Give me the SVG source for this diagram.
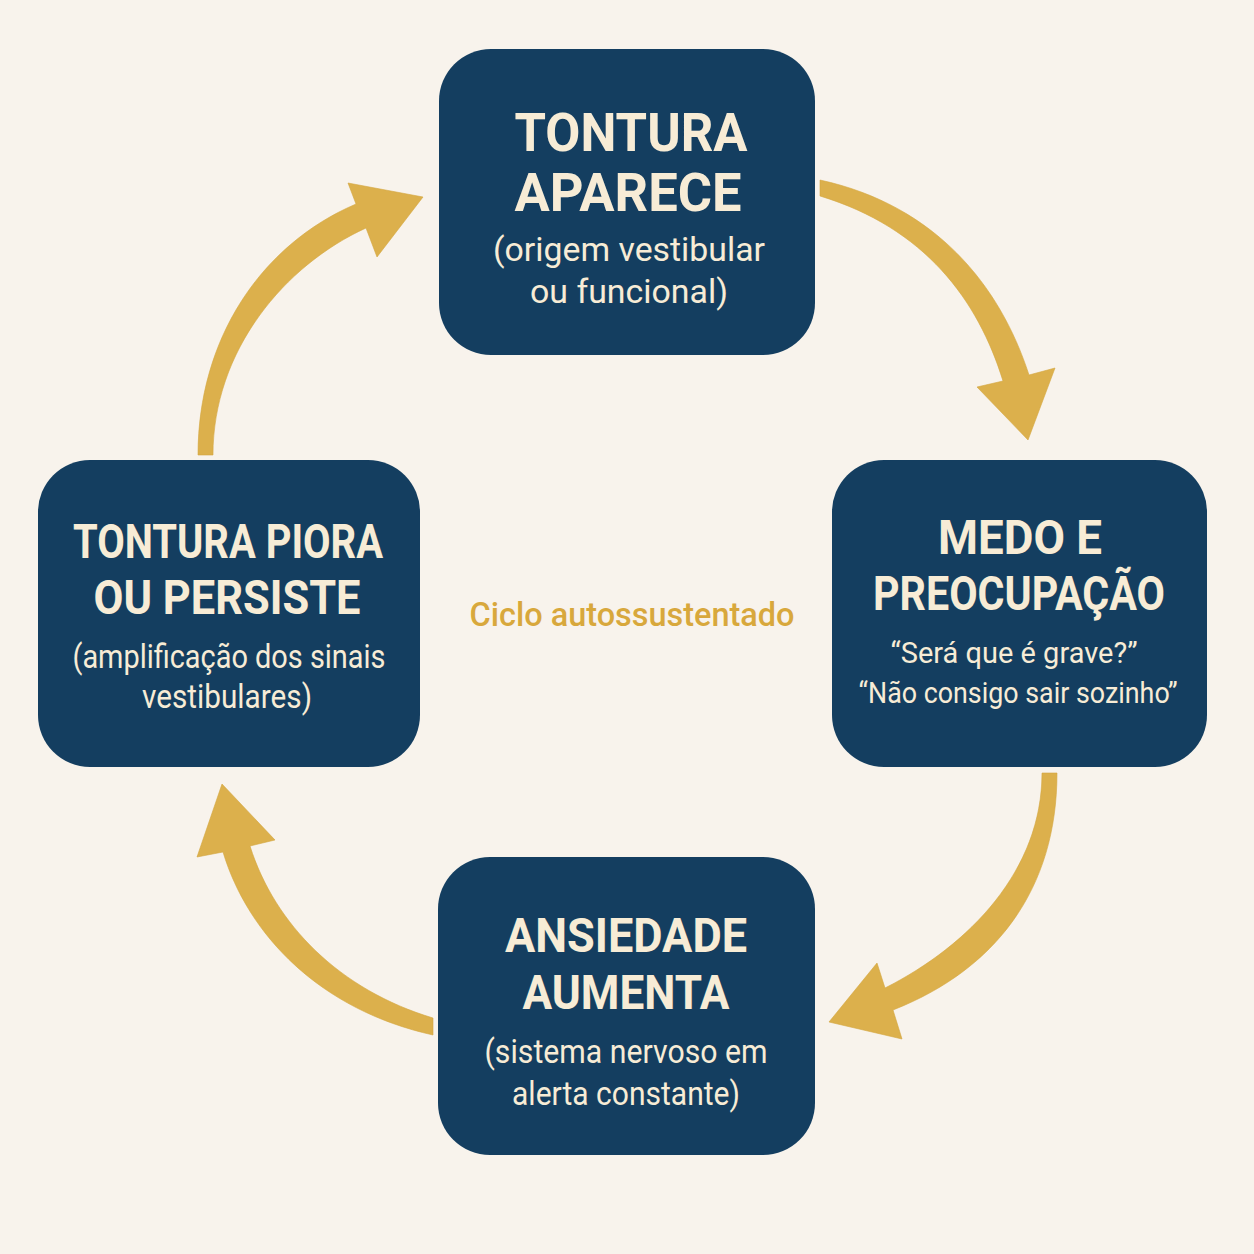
<svg xmlns="http://www.w3.org/2000/svg" width="1254" height="1254" viewBox="0 0 1254 1254">
<style>
.box{fill:#143e60}
.t{font-family:Roboto,"Liberation Sans",sans-serif;font-weight:700;fill:#f7ecd6;text-anchor:middle}
.s{font-family:Roboto,"Liberation Sans",sans-serif;font-weight:400;fill:#f7ecd6;text-anchor:middle;font-size:33px}
.arrow{fill:#dcb04c;stroke:#d4a640;stroke-width:0.6}
.c{font-family:Roboto,"Liberation Sans",sans-serif;font-weight:500;fill:#d8a83c;text-anchor:middle;font-size:34px}
</style>
<rect width="1254" height="1254" fill="#f8f3ec"/>
<g id="connectors">
<path class="arrow" d="M820,180 C935,205 1000,285 1029,375 L1055,368 L1028,440 L977,387 L1003,381 C978,300 925,228 820,196 Z"/>
<path class="arrow" d="M1057,773 C1057,890 995,970 893,1010 L902,1039 L829,1022 L877,963 L885,988 C970,945 1042,870 1042,773 Z"/>
<path class="arrow" d="M433,1035 C320,1010 248,935 223,852 L197,857 L222,784 L275,840 L250,846 C275,925 340,990 433,1018 Z"/>
<path class="arrow" d="M198,455 C198,340 260,245 356,204 L348,183 L423,197 L377,257 L366,228 C285,265 213,350 213,455 Z"/>
</g>
<g id="node-top">
<rect class="box" x="439" y="49" width="376" height="306" rx="52"/>
<text class="t" x="631" y="151" font-size="54" textLength="233" lengthAdjust="spacingAndGlyphs">TONTURA</text>
<text class="t" x="628" y="211" font-size="54" textLength="227" lengthAdjust="spacingAndGlyphs">APARECE</text>
<text class="s" x="629" y="261" textLength="272" lengthAdjust="spacingAndGlyphs">(origem vestibular</text>
<text class="s" x="629" y="303" textLength="198" lengthAdjust="spacingAndGlyphs">ou funcional)</text>
</g>
<g id="node-right">
<rect class="box" x="832" y="460" width="375" height="307" rx="52"/>
<text class="t" x="1020" y="554" font-size="48" textLength="164" lengthAdjust="spacingAndGlyphs">MEDO E</text>
<text class="t" x="1019" y="610" font-size="48" textLength="292" lengthAdjust="spacingAndGlyphs">PREOCUPAÇÃO</text>
<text class="s" x="1014" y="663" style="font-size:30px" textLength="247" lengthAdjust="spacingAndGlyphs">“Será que é grave?”</text>
<text class="s" x="1018" y="703" style="font-size:30px" textLength="319" lengthAdjust="spacingAndGlyphs">“Não consigo sair sozinho”</text>
</g>
<g id="node-left">
<rect class="box" x="38" y="460" width="382" height="307" rx="52"/>
<text class="t" x="228" y="558" font-size="48" textLength="310" lengthAdjust="spacingAndGlyphs">TONTURA PIORA</text>
<text class="t" x="227" y="614" font-size="48" textLength="267" lengthAdjust="spacingAndGlyphs">OU PERSISTE</text>
<text class="s" x="229" y="668" textLength="313" lengthAdjust="spacingAndGlyphs">(amplificação dos sinais</text>
<text class="s" x="227" y="708" textLength="170" lengthAdjust="spacingAndGlyphs">vestibulares)</text>
</g>
<g id="node-bottom">
<rect class="box" x="438" y="857" width="377" height="298" rx="52"/>
<text class="t" x="626" y="952" font-size="48" textLength="242" lengthAdjust="spacingAndGlyphs">ANSIEDADE</text>
<text class="t" x="626" y="1009" font-size="48" textLength="207" lengthAdjust="spacingAndGlyphs">AUMENTA</text>
<text class="s" x="626" y="1063" textLength="283" lengthAdjust="spacingAndGlyphs">(sistema nervoso em</text>
<text class="s" x="626" y="1105" textLength="228" lengthAdjust="spacingAndGlyphs">alerta constante)</text>
</g>
<g id="center-label">
<text class="c" x="632" y="626" textLength="325" lengthAdjust="spacingAndGlyphs">Ciclo autossustentado</text>
</g>
</svg>
